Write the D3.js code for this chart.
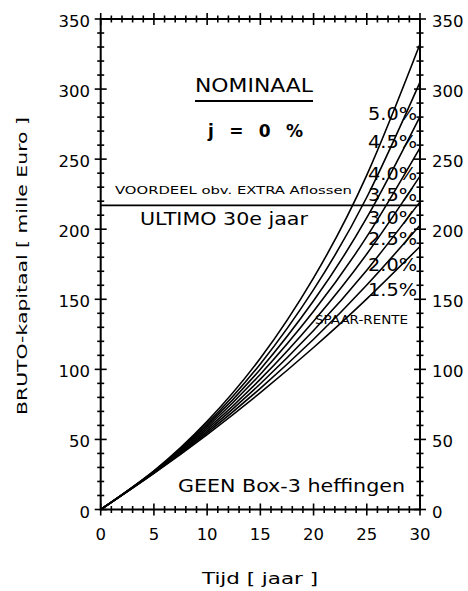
<!DOCTYPE html>
<html><head><meta charset="utf-8">
<script src="https://cdn.jsdelivr.net/npm/d3@7"></script>
<style>
body{margin:0;background:#fff}
svg{display:block}
text{font-family:"DejaVu Sans",sans-serif;fill:#000}
</style>
</head><body>
<svg id="c" width="468" height="591"></svg>
<script>
// ---- data ----
const years = [0, 5, 10, 15, 20, 25, 30];
const rateLabels = ["1.5%", "2.0%", "2.5%", "3.0%", "3.5%", "4.0%", "4.5%", "5.0%"];
const cap15 = [0, 25.8, 53.5, 83.4, 115.6, 150.3, 187.7];
const cap20 = [0, 26.0, 54.7, 86.5, 121.5, 160.2, 202.8];
const cap25 = [0, 26.3, 56.0, 89.7, 127.7, 170.8, 219.5];
const cap30 = [0, 26.5, 57.3, 93.0, 134.4, 182.3, 237.9];
const cap35 = [0, 26.8, 58.7, 96.5, 141.4, 194.7, 258.1];
const cap40 = [0, 27.1, 60.0, 100.1, 148.9, 208.2, 280.4];
const cap45 = [0, 27.4, 61.4, 103.9, 156.9, 222.8, 305.0];
const cap50 = [0, 27.6, 62.9, 107.9, 165.3, 238.6, 332.2];
const xTicks = [0, 5, 10, 15, 20, 25, 30];
const yTicks = [0, 50, 100, 150, 200, 250, 300, 350];
const voordeelLevel = 217;

const series = [cap15, cap20, cap25, cap30, cap35, cap40, cap45, cap50];

// ---- layout ----
const svg = d3.select("#c");
const x = d3.scaleLinear().domain([0, 30]).range([100.7, 420]);
const y = d3.scaleLinear().domain([0, 350]).range([509.5, 19]);

// frame
const g = svg.append("g");
g.append("rect")
  .attr("x", x(0)).attr("y", y(350))
  .attr("width", x(30) - x(0)).attr("height", y(0) - y(350))
  .attr("fill", "none").attr("stroke", "#000").attr("stroke-width", 2);

// ticks: x every year (bottom and top), y every 10 (left and right)
const xMinor = d3.range(0, 31, 1);
const yMinor = d3.range(0, 351, 10);
function tickLen(v, step) { return v % step === 0 ? 6 : 3.5; }
xMinor.forEach(t => {
  const L = tickLen(t, 5);
  [y(0), y(350)].forEach(yy => {
    g.append("line").attr("x1", x(t)).attr("x2", x(t))
      .attr("y1", yy - L).attr("y2", yy + L)
      .attr("stroke", "#000").attr("stroke-width", 1.6);
  });
});
yMinor.forEach(v => {
  const L = tickLen(v, 50);
  [x(0), x(30)].forEach(xx => {
    g.append("line").attr("x1", xx - L).attr("x2", xx + L)
      .attr("y1", y(v)).attr("y2", y(v))
      .attr("stroke", "#000").attr("stroke-width", 1.6);
  });
});

// tick labels
yTicks.forEach(v => {
  g.append("text").attr("x", 90).attr("y", y(v) + 8)
    .attr("text-anchor", "end").attr("font-size", 16.5).text(v);
  g.append("text").attr("x", 432).attr("y", y(v) + 8)
    .attr("text-anchor", "start").attr("font-size", 16.5).text(v);
});
xTicks.forEach(t => {
  g.append("text").attr("x", x(t)).attr("y", 540)
    .attr("text-anchor", "middle").attr("font-size", 16.5).text(t);
});

// axis titles
g.append("text").attr("x", 202).attr("y", 584)
  .attr("font-size", 15).attr("textLength", 116).attr("lengthAdjust", "spacingAndGlyphs")
  .text("Tijd [ jaar ]");
g.append("text").attr("transform", "translate(27,415) rotate(-90)")
  .attr("font-size", 14).attr("textLength", 298).attr("lengthAdjust", "spacingAndGlyphs")
  .text("BRUTO-kapitaal [ mille Euro ]");

// curves
const line = d3.line()
  .x((d, i) => x(years[i]))
  .y(d => y(d))
  .curve(d3.curveNatural);
series.forEach(s => {
  g.append("path").attr("d", line(s))
    .attr("fill", "none").attr("stroke", "#000").attr("stroke-width", 1.6);
});

// horizontal reference line
g.append("line").attr("x1", x(0)).attr("x2", x(30))
  .attr("y1", y(voordeelLevel)).attr("y2", y(voordeelLevel))
  .attr("stroke", "#000").attr("stroke-width", 1.6);

// rate labels (right-aligned near the right axis)
const labelLevels = [157, 175, 194, 209, 225, 240, 263, 283];
rateLabels.forEach((lab, i) => {
  g.append("text").attr("x", 368).attr("y", y(labelLevels[i]) + 7)
    .attr("font-size", 18).attr("textLength", 49).attr("lengthAdjust", "spacingAndGlyphs")
    .text(lab);
});
g.append("text").attr("x", 315).attr("y", 324)
  .attr("font-size", 12.5).attr("textLength", 93).attr("lengthAdjust", "spacingAndGlyphs")
  .text("SPAAR-RENTE");

// annotations
g.append("text").attr("x", 195).attr("y", 92)
  .attr("font-size", 19).attr("textLength", 118).attr("lengthAdjust", "spacingAndGlyphs")
  .text("NOMINAAL");
g.append("line").attr("x1", 195).attr("x2", 313).attr("y1", 101).attr("y2", 101)
  .attr("stroke", "#000").attr("stroke-width", 2);
g.append("text").attr("x", 208).attr("y", 137)
  .attr("font-size", 17).attr("font-weight", "bold")
  .attr("textLength", 95).attr("lengthAdjust", "spacing")
  .text("j = 0 %");
g.append("text").attr("x", 115).attr("y", 194)
  .attr("font-size", 10).attr("textLength", 237).attr("lengthAdjust", "spacingAndGlyphs")
  .text("VOORDEEL obv. EXTRA Aflossen");
g.append("text").attr("x", 140).attr("y", 225)
  .attr("font-size", 17.5).attr("textLength", 168).attr("lengthAdjust", "spacingAndGlyphs")
  .text("ULTIMO 30e jaar");
g.append("text").attr("x", 178).attr("y", 492)
  .attr("font-size", 17).attr("textLength", 227).attr("lengthAdjust", "spacingAndGlyphs")
  .text("GEEN Box-3 heffingen");
</script>
</body></html>
